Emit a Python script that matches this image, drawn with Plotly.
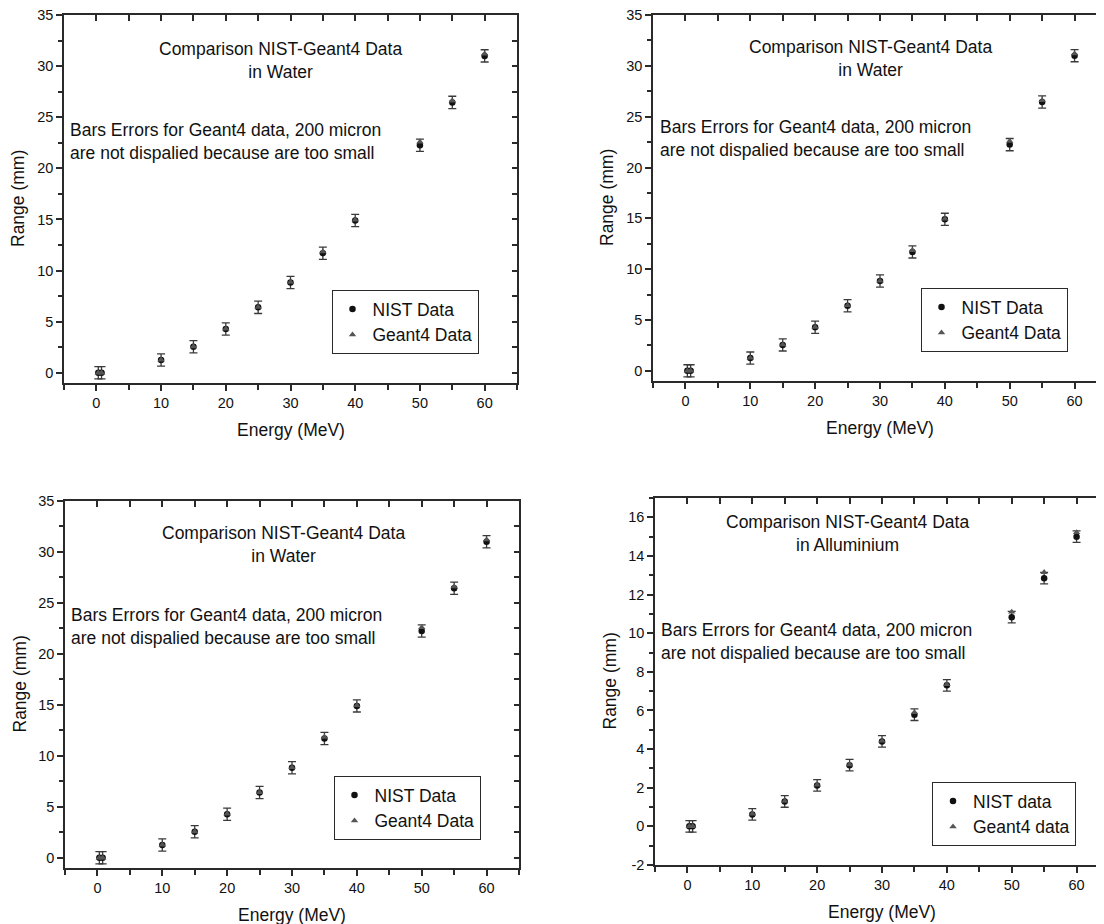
import plotly.graph_objects as go

# ---------------- data ----------------
energy = [0.3, 0.8, 10, 15, 20, 25, 30, 35, 40, 50, 55, 60]

water_nist = [0.0, 0.0, 1.25, 2.55, 4.28, 6.4, 8.83, 11.7, 14.9, 22.25, 26.45, 31.0]
water_geant4 = [0.0, 0.0, 1.27, 2.57, 4.3, 6.43, 8.86, 11.85, 14.95, 22.6, 26.6, 31.2]
water_err = [0.6] * len(energy)

al_nist = [0.0, 0.0, 0.62, 1.29, 2.12, 3.17, 4.4, 5.78, 7.3, 10.83, 12.85, 15.0]
al_geant4 = [0.0, 0.0, 0.65, 1.31, 2.15, 3.2, 4.42, 5.9, 7.35, 11.1, 13.15, 15.22]
al_err = [0.3] * len(energy)

water_yticks = [0, 5, 10, 15, 20, 25, 30, 35]
water_yticktext = ["0", "5", "10", "15", "20", "25", "30", "35"]
al_yticks = [-2, 0, 2, 4, 6, 8, 10, 12, 14, 16]
al_yticktext = ["-2", "0", "2", "4", "6", "8", "10", "12", "14", "16"]
xticks = [0, 10, 20, 30, 40, 50, 60]

panels = [
    dict(name="Water", nist=water_nist, g4=water_geant4, err=water_err,
         leg=("NIST Data", "Geant4 Data"), material="in Water"),
    dict(name="Water", nist=water_nist, g4=water_geant4, err=water_err,
         leg=("NIST Data", "Geant4 Data"), material="in Water"),
    dict(name="Water", nist=water_nist, g4=water_geant4, err=water_err,
         leg=("NIST Data", "Geant4 Data"), material="in Water"),
    dict(name="Al", nist=al_nist, g4=al_geant4, err=al_err,
         leg=("NIST data", "Geant4 data"), material="in Alluminium"),
]

# ---------------- layout geometry ----------------
W, H = 1104, 924
OFF = 8  # page body margin; positions below are given in page pixels
FONT = "Arial, Liberation Sans, sans-serif"
TXT = "#111111"
AX = "#2a2a2a"

# (left, right, top, bottom) of plot areas in page px
boxes = [(64, 517, 15, 383),
         (653, 1107, 15, 381),
         (65, 519, 501, 868),
         (655, 1109, 498, 865)]
xranges = [[-5, 65]] * 4
yranges = [[-1, 35], [-1, 35], [-1, 35], [-2, 17]]
legend_centers = [(405, 322), (994, 320), (407, 808), (1004, 814)]

fig = go.Figure()
layout = dict(width=W, height=H, margin=dict(l=0, r=0, t=0, b=0, pad=0, autoexpand=False),
              paper_bgcolor="white", plot_bgcolor="white", template="none",
              font=dict(family=FONT, color=TXT), showlegend=True)
annotations = []

for i, (p, box) in enumerate(zip(panels, boxes)):
    k = i + 1
    sfx = "" if k == 1 else str(k)
    L, R, T, B = [v - OFF for v in box]
    xd = [L / W, R / W]
    yd = [1 - B / H, 1 - T / H]
    water = p["name"] == "Water"
    yt = water_yticks if water else al_yticks
    ytt = water_yticktext if water else al_yticktext
    ydt_minor = 2.5 if water else 1

    common_x = dict(domain=xd, range=xranges[i], showgrid=False, zeroline=False,
                    showline=True, linecolor=AX, linewidth=1.5, mirror=True,
                    automargin=False, ticklabeloverflow="allow")
    common_y = dict(domain=yd, range=yranges[i], showgrid=False, zeroline=False,
                    showline=True, linecolor=AX, linewidth=1.5, mirror=True,
                    automargin=False, ticklabeloverflow="allow")

    layout["xaxis" + sfx] = dict(common_x, anchor="y" + sfx, tickmode="array",
                                 tickvals=xticks, ticks="outside", ticklen=6,
                                 tickwidth=1.5, tickcolor=AX,
                                 tickfont=dict(size=14.5, color=TXT, family=FONT),
                                 minor=dict(dtick=5, tick0=0, ticks="outside", ticklen=5,
                                            tickwidth=1.5, tickcolor=AX))
    layout["yaxis" + sfx] = dict(common_y, anchor="x" + sfx, tickmode="array",
                                 tickvals=yt, ticktext=ytt, ticks="outside", ticklen=6,
                                 tickwidth=1.5, tickcolor=AX,
                                 tickfont=dict(size=14.5, color=TXT, family=FONT),
                                 minor=dict(dtick=ydt_minor, tick0=0, ticks="outside",
                                            ticklen=4, tickwidth=1.5, tickcolor=AX))
    # overlay axes for inward ticks on top and right
    kx = 4 + k
    layout["xaxis%d" % kx] = dict(domain=xd, range=xranges[i], overlaying="x" + sfx,
                                  anchor="y" + sfx, side="top", showgrid=False,
                                  zeroline=False, showline=False, showticklabels=False,
                                  automargin=False,
                                  tickmode="linear", tick0=0, dtick=5, ticks="inside",
                                  ticklen=6, tickwidth=1.5, tickcolor=AX)
    layout["yaxis%d" % kx] = dict(domain=yd, range=yranges[i], overlaying="y" + sfx,
                                  anchor="x" + sfx, side="right", showgrid=False,
                                  zeroline=False, showline=False, showticklabels=False,
                                  automargin=False,
                                  tickmode="linear", tick0=0, dtick=ydt_minor,
                                  ticks="inside", ticklen=5, tickwidth=1.5, tickcolor=AX)
    fig.add_trace(go.Scatter(x=[None], y=[None], xaxis="x%d" % kx, yaxis="y%d" % kx,
                             showlegend=False, hoverinfo="skip"))

    leg = "legend" if k == 1 else "legend%d" % k
    fig.add_trace(go.Scatter(
        x=energy, y=p["nist"], mode="markers", name=p["leg"][0],
        xaxis="x" + sfx, yaxis="y" + sfx, legend=leg,
        marker=dict(symbol="circle", size=6.5, color="#111111"),
        error_y=dict(type="data", array=p["err"], visible=True, color="#3a3a3a",
                     thickness=1.3, width=4)))
    fig.add_trace(go.Scatter(
        x=energy, y=p["g4"], mode="markers", name=p["leg"][1],
        xaxis="x" + sfx, yaxis="y" + sfx, legend=leg,
        marker=dict(symbol="triangle-up", size=6.5, color="#555555")))

    cx, cy = legend_centers[i]
    layout[leg] = dict(x=(cx - OFF) / W, y=1 - (cy - OFF) / H,
                       xanchor="center", yanchor="middle",
                       xref="paper", yref="paper",
                       bordercolor=AX, borderwidth=1, bgcolor="white",
                       font=dict(size=17.5, color=TXT, family=FONT),
                       itemsizing="trace", tracegroupgap=0)

    # text annotations (in axis-domain coordinates)
    ph = B - T
    pw = R - L
    title_c = [(280, 60), (870, 58.5), (283, 544.5), (847, 533)][i]
    note_l = [(68, 141), (657.7, 139), (69, 626.5), (659, 641.5)][i]
    tx, ty = title_c[0] - OFF, title_c[1] - OFF
    nx, ny = note_l[0] - OFF, note_l[1] - OFF
    annotations.append(dict(
        text="Comparison NIST-Geant4 Data<br>" + p["material"],
        xref="x%s domain" % sfx, yref="y%s domain" % sfx,
        x=(tx - L) / pw, y=1 - (ty - T) / ph,
        xanchor="center", yanchor="middle", showarrow=False, align="center",
        font=dict(size=17.5, color=TXT, family=FONT)))
    annotations.append(dict(
        text="Bars Errors for Geant4 data, 200 micron<br>are not dispalied because are too small",
        xref="x%s domain" % sfx, yref="y%s domain" % sfx,
        x=(nx - L) / pw, y=1 - (ny - T) / ph,
        xanchor="left", yanchor="middle", showarrow=False, align="left",
        font=dict(size=17.5, color=TXT, family=FONT)))
    # axis titles
    annotations.append(dict(
        text="Energy (MeV)", xref="x%s domain" % sfx, yref="y%s domain" % sfx,
        x=0.5, y=-47 / ph, xanchor="center", yanchor="middle", showarrow=False,
        font=dict(size=17.5, color=TXT, family=FONT)))
    annotations.append(dict(
        text="Range (mm)", xref="x%s domain" % sfx, yref="y%s domain" % sfx,
        x=-46 / pw, y=0.5, xanchor="center", yanchor="middle", showarrow=False,
        textangle=-90, font=dict(size=17.5, color=TXT, family=FONT)))

layout["annotations"] = annotations
fig.update_layout(**layout)
fig.write_html("out.html")
